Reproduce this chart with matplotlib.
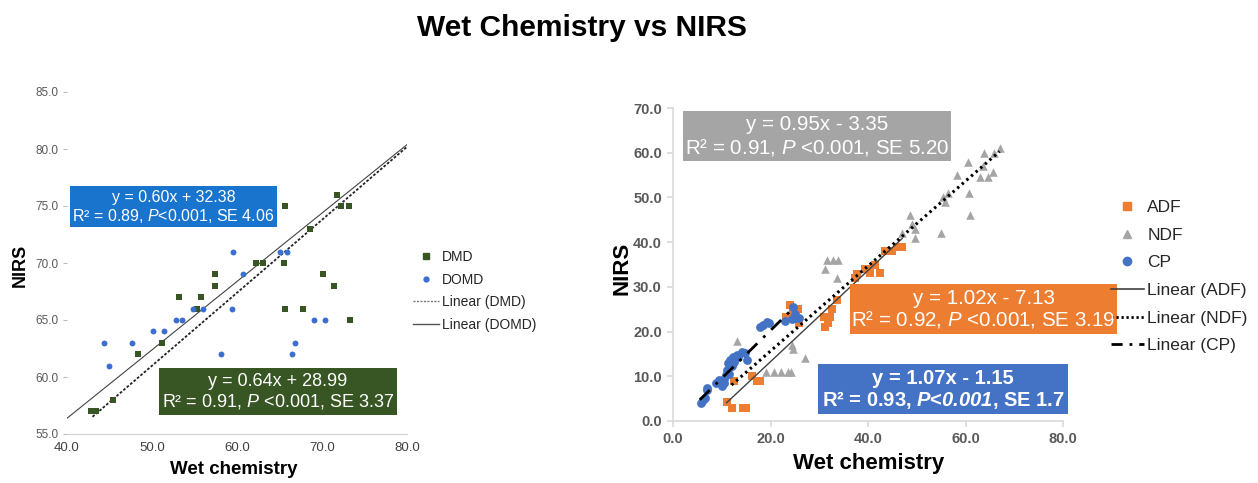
import numpy as np
import matplotlib
matplotlib.use("Agg")
import matplotlib.pyplot as plt
from matplotlib.patches import Rectangle
from matplotlib.lines import Line2D

plt.rcParams['font.family'] = ['Liberation Sans', 'DejaVu Sans']
plt.rcParams['mathtext.fontset'] = 'custom'
plt.rcParams['mathtext.rm'] = 'Liberation Sans'
plt.rcParams['mathtext.it'] = 'Liberation Sans:italic'
plt.rcParams['mathtext.bf'] = 'Liberation Sans:bold'
plt.rcParams['mathtext.bfit'] = 'Liberation Sans:italic:bold'

# ---------------- Left panel data ----------------
dmd_x = [65.6, 71.8, 72.2, 73.2, 68.6, 62.2, 63.0, 65.5, 70.1, 71.4, 65.6, 67.8, 73.3,
         57.4, 57.4, 55.8, 53.2, 55.3, 51.2, 48.3, 45.4, 42.8, 43.4]
dmd_y = [75, 76, 75, 75, 73, 70, 70, 70, 69, 68, 66, 66, 65,
         69, 68, 67, 67, 66, 63, 62, 58, 57, 57]
domd_x = [59.5, 65.1, 65.9, 60.7, 59.4, 54.8, 56.0, 52.8, 53.5, 50.1, 51.4, 44.3, 47.7,
          44.9, 58.1, 66.5, 66.8, 69.0, 70.4]
domd_y = [71, 71, 71, 69, 66, 66, 66, 65, 65, 64, 64, 63, 63,
          61, 62, 62, 63, 65, 65]
# trend lines (slope, intercept, x range) as given by the chart's equations
dmd_fit = (0.64, 28.99, 43.0, 80.0)
domd_fit = (0.60, 32.38, 40.0, 80.0)

# ---------------- Right panel data ----------------
adf_x = [11.0, 12.1, 14.3, 15.0, 12.5, 16.2, 17.2, 17.8, 24.0, 23.2, 25.6, 25.8, 24.6,
         31.0, 32.2, 31.2, 31.8, 32.6, 33.6, 37.3, 37.7, 40.0, 41.4, 42.4, 40.5, 39.3,
         43.4, 44.9, 46.0, 47.0]
adf_y = [4.2, 3.0, 3.0, 3.0, 9.0, 10.0, 9.0, 9.0, 26.0, 23.2, 25.0, 22.0, 24.3,
         23.2, 23.2, 21.0, 22.0, 25.0, 27.0, 32.0, 32.8, 34.0, 35.0, 33.0, 33.0, 34.0,
         38.0, 38.0, 39.0, 39.0]
ndf_x = [13.1, 24.4, 24.6, 27.0, 19.0, 20.7, 22.2, 23.6, 24.3, 31.1, 31.6, 32.8, 33.8,
         33.6, 46.9, 48.6, 49.0, 49.6, 49.6, 54.9, 55.3, 56.4, 55.7, 58.2, 60.5, 60.7,
         60.9, 62.9, 64.6, 63.5, 63.7, 65.6, 65.8, 67.0]
ndf_y = [18, 17, 16, 14, 11, 11, 11, 11, 11, 34, 36, 36, 36,
         32, 42, 46, 44, 43, 41, 42, 50, 51, 49, 55, 58, 51,
         46, 54.5, 54.5, 57, 60, 55.6, 60, 61]
cp_x = [5.8, 6.1, 6.6, 7.0, 7.0, 8.8, 9.5, 10.0, 10.5, 10.9, 11.0, 11.3, 11.7, 12.3,
        13.1, 13.3, 14.1, 14.8, 15.2, 12.5, 11.5, 10.5, 12.0, 17.8, 18.4, 19.3, 19.6,
        23.0, 24.4, 24.6, 25.0, 25.8, 25.0]
cp_y = [4.0, 4.7, 5.1, 6.9, 7.4, 8.6, 9.2, 7.8, 8.5, 10.3, 11.4, 12.9, 13.6, 14.3,
        14.7, 14.3, 15.4, 15.2, 13.6, 13.2, 10.5, 9.5, 12.3, 21.0, 21.4, 22.1, 22.0,
        22.3, 22.8, 25.4, 24.0, 23.0, 23.0]
adf_fit = (1.02, -7.13, 11.0, 47.0)
ndf_fit = (0.95, -3.35, 12.0, 67.0)
cp_fit = (1.07, -1.15, 5.5, 25.0)

W, H = 1258, 483
fig = plt.figure(figsize=(W / 100, H / 100), dpi=100)


def fx(px):
    return px / W


def fy(py):
    return 1 - py / H


def line_pts(fit):
    m, b, x0, x1 = fit
    xs = np.array([x0, x1])
    return xs, m * xs + b


# ---------------- Left axes ----------------
axL = fig.add_axes([fx(67), fy(434), (407 - 67) / W, (434 - 92) / H])
axL.set_xlim(40, 80)
axL.set_ylim(55, 85)
axL.set_xticks(np.arange(40, 81, 10))
axL.set_yticks(np.arange(55, 86, 5))
axL.set_xticklabels([f"{v:.1f}" for v in np.arange(40, 81, 10)])
axL.set_yticklabels([f"{v:.1f}" for v in np.arange(55, 86, 5)])
for s in ['top', 'right', 'left']:
    axL.spines[s].set_visible(False)
axL.spines['bottom'].set_color('#d0d0d0')
axL.tick_params(axis='y', length=3, color='#bbbbbb', labelsize=8.5, labelcolor='#595959', pad=3)
axL.tick_params(axis='x', length=0, labelsize=9.5, labelcolor='#404040', pad=6)

xs, ys = line_pts(domd_fit)
axL.plot(xs, ys, color='#444444', lw=0.8, zorder=2)
xs, ys = line_pts(dmd_fit)
axL.plot(xs, ys, color='#222222', lw=1.3, ls=(0, (1.5, 1)), zorder=2)
axL.scatter(dmd_x, dmd_y, marker='s', s=24, color='#375623', zorder=3, linewidths=0)
axL.scatter(domd_x, domd_y, marker='o', s=18, color='#3a6fd0', zorder=3, linewidths=0)

fig.text(fx(20), fy(265), 'NIRS', rotation=90, ha='center', va='center',
         fontsize=13, fontweight='bold')
fig.text(fx(234), fy(469), 'Wet chemistry', ha='center', va='center',
         fontsize=13.5, fontweight='bold')

legL = [Line2D([], [], marker='s', ls='none', color='#375623', markersize=4.5),
        Line2D([], [], marker='o', ls='none', color='#3a6fd0', markersize=3.5),
        Line2D([], [], color='#777777', lw=1, ls=(0, (1.5, 1))),
        Line2D([], [], color='#555555', lw=1)]
fig.legend(legL, ['DMD', 'DOMD', 'Linear (DMD)', 'Linear (DOMD)'],
           loc='upper left', bbox_to_anchor=(fx(413), fy(250)), frameon=False,
           fontsize=10, handlelength=1.9, handletextpad=0.2, labelspacing=0.62,
           borderpad=0, borderaxespad=0, labelcolor='#262626')


def box(x0, y0, x1, y1, color, lines, fs, weight='normal'):
    fig.patches.append(Rectangle((fx(x0), fy(y1)), (x1 - x0) / W, (y1 - y0) / H,
                                 transform=fig.transFigure, facecolor=color,
                                 edgecolor='none', zorder=5))
    cx = (x0 + x1) / 2
    h = (y1 - y0)
    fig.text(fx(cx), fy(y0 + h * 0.28), lines[0], ha='center', va='center',
             color='white', fontsize=fs, fontweight=weight, zorder=6)
    fig.text(fx(cx), fy(y0 + h * 0.72), lines[1], ha='center', va='center',
             color='white', fontsize=fs, fontweight=weight, zorder=6)


box(70, 186, 277, 227, '#1874cd',
    ['y = 0.60x + 32.38', r'R² = 0.89, $\mathit{P}$<0.001, SE 4.06'], 11.5)
box(159, 368, 397, 415, '#375623',
    ['y = 0.64x + 28.99', r'R² = 0.91, $\mathit{P}$ <0.001, SE 3.37'], 13)

# ---------------- Right axes ----------------
axR = fig.add_axes([fx(673), fy(421), (1063 - 673) / W, (421 - 108) / H])
axR.set_xlim(0, 80)
axR.set_ylim(0, 70)
axR.set_xticks(np.arange(0, 81, 20))
axR.set_yticks(np.arange(0, 71, 10))
axR.set_xticklabels([f"{v:.1f}" for v in np.arange(0, 81, 20)])
axR.set_yticklabels([f"{v:.1f}" for v in np.arange(0, 71, 10)])
for s in ['top', 'right']:
    axR.spines[s].set_visible(False)
for s in ['left', 'bottom']:
    axR.spines[s].set_color('#d9d9d9')
    axR.spines[s].set_linewidth(1.2)
axR.tick_params(length=4, color='#d9d9d9', width=1.2, labelsize=10.5,
                labelcolor='#595959', pad=4)
for lab in axR.get_xticklabels() + axR.get_yticklabels():
    lab.set_fontweight('bold')

axR.scatter(ndf_x, ndf_y, marker='^', s=38, color='#a5a5a5', zorder=3, linewidths=0)
axR.scatter(adf_x, adf_y, marker='s', s=40, color='#ed7d31', zorder=3, linewidths=0)
axR.scatter(cp_x, cp_y, marker='o', s=40, color='#4472c4', zorder=3, linewidths=0)
xs, ys = line_pts(adf_fit)
axR.plot(xs, ys, color='#404040', lw=1.0, zorder=4)
xs, ys = line_pts(ndf_fit)
axR.plot(xs, ys, color='black', lw=2.2, ls=(0, (0.8, 1.2)), zorder=4)
xs, ys = line_pts(cp_fit)
axR.plot(xs, ys, color='black', lw=2.0, ls=(0, (5, 3, 1, 3)), zorder=4)

fig.text(fx(622), fy(268), 'NIRS', rotation=90, ha='center', va='center',
         fontsize=16, fontweight='bold')
fig.text(fx(869), fy(463), 'Wet chemistry', ha='center', va='center',
         fontsize=16, fontweight='bold')

legR = [Line2D([], [], marker='s', ls='none', color='#ed7d31', markersize=6),
        Line2D([], [], marker='^', ls='none', color='#a5a5a5', markersize=6),
        Line2D([], [], marker='o', ls='none', color='#4472c4', markersize=6),
        Line2D([], [], color='#404040', lw=1.2),
        Line2D([], [], color='black', lw=2, ls=(0, (0.8, 1.0))),
        Line2D([], [], color='black', lw=2, ls=(0, (4, 2.5, 1, 2.5)))]
fig.legend(legR, ['ADF', 'NDF', 'CP', 'Linear (ADF)', 'Linear (NDF)', 'Linear (CP)'],
           loc='upper left', bbox_to_anchor=(fx(1111), fy(200)), frameon=False,
           fontsize=12.5, handlelength=1.9, handletextpad=0.2, labelspacing=0.72,
           borderpad=0, borderaxespad=0, labelcolor='#262626')

box(683, 111, 951, 161, '#a5a5a5',
    ['y = 0.95x - 3.35', r'R² = 0.91, $\mathit{P}$ <0.001, SE 5.20'], 14.8)
box(850, 284, 1117, 334, '#ed7d31',
    ['y = 1.02x - 7.13', r'R² = 0.92, $\mathit{P}$ <0.001, SE 3.19'], 14.8)
box(818, 364, 1068, 414, '#4472c4',
    ['y = 1.07x - 1.15', r'R² = 0.93, $\mathbfit{P}$<$\mathbfit{0.001}$, SE 1.7'], 14.5, 'bold')

fig.text(fx(582), fy(28), 'Wet Chemistry vs NIRS', ha='center', va='center',
         fontsize=21.5, fontweight='bold')

fig.savefig('out.png', dpi=100)
